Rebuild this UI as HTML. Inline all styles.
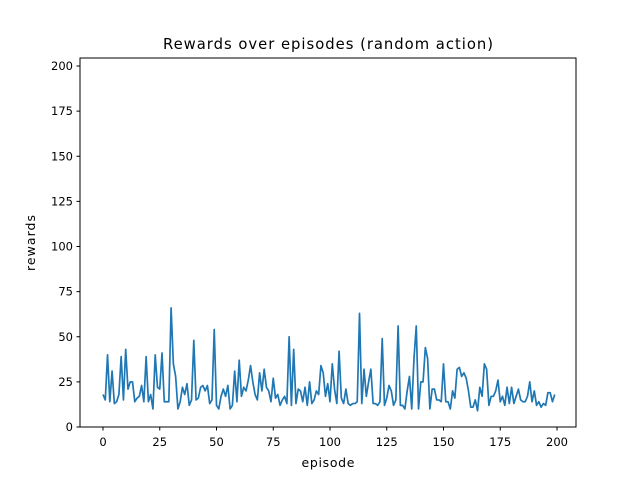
<!DOCTYPE html>
<html><head><meta charset="utf-8"><style>
body{margin:0;background:#fff;width:640px;height:480px;overflow:hidden}
svg{font-family:"DejaVu Sans","Liberation Sans",sans-serif}
</style></head><body>
<svg id="chart" width="640" height="480">
<rect x="0" y="0" width="640" height="480" fill="#fff"/>
<text x="328" y="49" text-anchor="middle" font-size="14.8" textLength="330" lengthAdjust="spacing">Rewards over episodes (random action)</text>
<text x="328" y="467" text-anchor="middle" font-size="12.5" textLength="53" lengthAdjust="spacing">episode</text>
<text x="35" y="243" text-anchor="middle" font-size="12.5" textLength="56" lengthAdjust="spacing" transform="rotate(-90 35 243)">rewards</text>
<g id="ticks"></g>
<polyline id="line" fill="none" stroke="#1f77b4" stroke-width="1.7" stroke-linejoin="round"/>
<rect x="80" y="58" width="496" height="369" fill="none" stroke="#000" stroke-width="1"/>
</svg>
<script>
const rewards = [18,15,40,14,31,13,14,18,39,15,43,21,25,25,14,16,17,23,14,39,14,18,10,40,22,21,41,14,14,14,
66,35,28,10,14,22,18,24,12,15,48,15,16,22,23,20,23,13,15,54,
12,10,17,21,17,23,10,12,31,14,37,17,22,20,26,34,25,18,15,30,
20,32,22,20,14,27,16,18,12,15,
17,13,50,12,43,13,21,20,14,22,12,25,13,15,20,18,34,30,17,24,
14,35,21,13,42,16,13,21,13,12,
13,13,14,63,13,32,17,25,32,13,
13,12,14,49,12,16,23,20,12,15,
56,12,12,10,20,28,10,38,56,10,
25,25,44,38,10,21,21,15,15,14,
35,14,14,10,20,16,32,33,28,30,
27,20,11,11,15,9,22,17,35,32,
12,17,17,20,26,14,17,12,22,13,
22,13,17,21,15,14,14,17,25,14,
20,12,14,11,13,12,19,19,14,18];
const xTicks = [0,25,50,75,100,125,150,175,200];
const yTicks = [0,25,50,75,100,125,150,175,200];
const xs = v => 103 + v * 2.27;
const ys = v => 427 - v * 1.805;
const NS = "http://www.w3.org/2000/svg";
const g = document.getElementById('ticks');
xTicks.forEach(t => {
  const l = document.createElementNS(NS,'line');
  l.setAttribute('x1',xs(t)); l.setAttribute('x2',xs(t));
  l.setAttribute('y1',427); l.setAttribute('y2',430.5); l.setAttribute('stroke','#000');
  
  
  g.appendChild(l);
  const tx = document.createElementNS(NS,'text');
  tx.setAttribute('x',xs(t)); tx.setAttribute('y',446); tx.setAttribute('font-size','11.5');
  tx.setAttribute('text-anchor','middle'); tx.textContent = t;
  
  
  g.appendChild(tx);
});
yTicks.forEach(t => {
  const l = document.createElementNS(NS,'line');
  l.setAttribute('x1',76.5); l.setAttribute('x2',80);
  l.setAttribute('y1',ys(t)); l.setAttribute('y2',ys(t)); l.setAttribute('stroke','#000');
  
  
  g.appendChild(l);
  const tx = document.createElementNS(NS,'text');
  tx.setAttribute('x',73); tx.setAttribute('y',ys(t)+4); tx.setAttribute('font-size','11.5');
  tx.setAttribute('text-anchor','end'); tx.textContent = t;
  
  
  g.appendChild(tx);
});
document.getElementById('line').setAttribute('points', rewards.map((v,i)=>xs(i).toFixed(2)+','+ys(v).toFixed(2)).join(' '));
</script>
</body></html>
